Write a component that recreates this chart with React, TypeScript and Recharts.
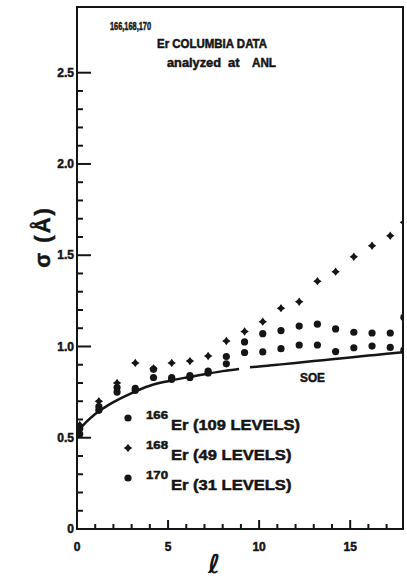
import {
  ComposedChart,
  Customized,
  Legend,
  Line,
  ReferenceArea,
  Scatter,
  XAxis,
  YAxis,
} from "recharts";

const INK = "#151515";
const FONT = "'Liberation Sans', Arial, sans-serif";

// axis ranges and labels
const xMax = 17.9;
const yMax = 2.86;
const xMajor = [0, 5, 10, 15];
const xMajorLabels = ["0", "5", "10", "15"];
const yMajor = [0, 0.5, 1, 1.5, 2, 2.5];
const yMajorLabels = ["0", "0.5", "1.0", "1.5", "2.0", "2.5"];

// l of each plotted column (they sit a little right of the integers)
const ells = [0.15, 1.2, 2.2, 3.2, 4.2, 5.2, 6.2, 7.2, 8.2, 9.2, 10.2, 11.2, 12.2, 13.2, 14.2, 15.2, 16.2, 17.2, 17.95];
// sigma values
const sigma166 = [0.52, 0.65, 0.75, 0.76, 0.83, 0.82, 0.83, 0.855, 0.905, 0.967, 0.97, 0.988, 1.008, 1.008, 0.972, 0.993, 1.002, 0.995, 0.98];
const sigma168 = [0.57, 0.7, 0.8, 0.91, 0.88, 0.91, 0.92, 0.948, 1.03, 1.082, 1.136, 1.21, 1.245, 1.358, 1.41, 1.492, 1.552, 1.607, 1.68];
const sigma170 = [0.55, 0.67, 0.775, 0.77, 0.875, 0.83, 0.84, 0.865, 0.945, 1.025, 1.07, 1.087, 1.112, 1.122, 1.096, 1.078, 1.074, 1.074, 1.16];

// SOE curve (gap near l = 9.2)
const curveL = [0, 0.5, 1, 1.5, 2, 3, 4, 5, 6, 7, 8, 8.9, 9.2, 9.5, 10, 11, 12, 13, 14, 15, 16, 17, 17.9];
const curveS = [0.53, 0.585, 0.63, 0.665, 0.695, 0.745, 0.785, 0.81, 0.83, 0.848, 0.865, 0.877, null, 0.886, 0.89, 0.9, 0.91, 0.92, 0.93, 0.94, 0.95, 0.96, 0.968];

const legendRows = [
  { iso: "166", text: "Er (109 LEVELS)", mark: "dot" },
  { iso: "168", text: "Er (49 LEVELS)", mark: "star" },
  { iso: "170", text: "Er (31 LEVELS)", mark: "dot" },
];

const d166 = ells.map((l, i) => ({ l, s: sigma166[i] }));
const d168 = ells.map((l, i) => ({ l, s: sigma168[i] }));
const d170 = ells.map((l, i) => ({ l, s: sigma170[i] }));
const curve = curveL.map((l, i) => ({ l, s: curveS[i] }));

const xTicks = Array.from({ length: 18 }, (_, i) => i);
const yTicks = Array.from({ length: 26 }, (_, i) => i / 10);

// heavy "lettering" look of the scan
const ink = { fill: INK, stroke: INK, strokeWidth: 0.5, fontFamily: FONT, fontWeight: "bold" as const };

function starPath(cx: number, cy: number, r = 4.2) {
  const k = r * 0.42;
  return `M${cx},${cy - r} L${cx + k},${cy - k} L${cx + r},${cy} L${cx + k},${cy + k} L${cx},${cy + r} L${cx - k},${cy + k} L${cx - r},${cy} L${cx - k},${cy - k} Z`;
}

const DotShape = (p: any) => <circle cx={p.cx} cy={p.cy} r={3.6} fill={INK} />;
const StarShape = (p: any) => <path d={starPath(p.cx, p.cy)} fill={INK} />;

function YTick(props: any) {
  const { x, y, payload } = props;
  const j = yMajor.findIndex((m) => Math.abs(m - payload.value) < 1e-6);
  return (
    <g>
      <line x1={x} x2={x + (j >= 0 ? 14 : 6)} y1={y} y2={y} stroke={INK} strokeWidth={2} />
      {j >= 0 && (
        <text x={x - 3} y={y} dy="0.35em" textAnchor="end" fontSize={12} {...ink}>
          {yMajorLabels[j]}
        </text>
      )}
    </g>
  );
}

function XTick(props: any) {
  const { x, y, payload } = props;
  const j = xMajor.indexOf(payload.value);
  return (
    <g>
      <line x1={x} x2={x} y1={y} y2={y - (j >= 0 ? 9 : 5)} stroke={INK} strokeWidth={2} />
      {j >= 0 && (
        <text x={x} y={y + 22} textAnchor="middle" fontSize={12} {...ink}>
          {xMajorLabels[j]}
        </text>
      )}
    </g>
  );
}

function LegendBox() {
  return (
    <svg width={200} height={95}>
      {legendRows.map((r, i) => {
        const cy = 15 + i * 30;
        return (
          <g key={r.iso}>
            {r.mark === "dot" ? <circle cx={12} cy={cy} r={3.6} fill={INK} /> : <path d={starPath(12, cy)} fill={INK} />}
            <text x={30} y={cy + 1} fontSize={11} textLength={22} lengthAdjust="spacingAndGlyphs" {...ink}>
              {r.iso}
            </text>
            <text x={55} y={cy + 12} fontSize={15} textLength={r.text.length * 8.6} lengthAdjust="spacingAndGlyphs" {...ink}>
              {r.text}
            </text>
          </g>
        );
      })}
    </svg>
  );
}

function Notes() {
  return (
    <g>
      <text x={110} y={30} fontSize={11} textLength={41} lengthAdjust="spacingAndGlyphs" {...ink}>166,168,170</text>
      <text x={157} y={48} fontSize={12} textLength={110} lengthAdjust="spacingAndGlyphs" {...ink}>Er COLUMBIA DATA</text>
      <text x={167} y={67} fontSize={13} textLength={54} lengthAdjust="spacingAndGlyphs" {...ink}>analyzed</text>
      <text x={228} y={67} fontSize={13} {...ink}>at</text>
      <text x={252} y={67} fontSize={13} textLength={24} lengthAdjust="spacingAndGlyphs" {...ink}>ANL</text>
      <text x={300} y={382} fontSize={13} textLength={25} lengthAdjust="spacingAndGlyphs" {...ink}>SOE</text>
    </g>
  );
}

export default function App() {
  return (
    <div style={{ position: "absolute", left: 0, top: 0, width: 407, height: 578, background: "#fff" }}>
      <ComposedChart width={407} height={578} margin={{ top: 7, right: 4, bottom: 19, left: 0 }}>
        <XAxis
          type="number"
          dataKey="l"
          domain={[0, xMax]}
          allowDataOverflow
          ticks={xTicks}
          interval={0}
          tick={<XTick />}
          tickLine={false}
          axisLine={false}
          tickSize={0}
          tickMargin={0}
          height={30}
          label={{
            value: "ℓ",
            content: (p: any) => (
              <text x={p.viewBox.x + 131} y={p.viewBox.y + 44} fontFamily="'DejaVu Sans', sans-serif" fontWeight="bold" fontSize={26} fill={INK}>
                ℓ
              </text>
            ),
          }}
        />
        <YAxis
          type="number"
          domain={[0, yMax]}
          allowDataOverflow
          ticks={yTicks}
          interval={0}
          tick={<YTick />}
          tickLine={false}
          axisLine={false}
          tickSize={0}
          tickMargin={0}
          width={77}
          label={{
            value: "σ (Å)",
            content: (p: any) => (
              <text
                transform={`translate(${p.viewBox.x + 50}, ${p.viewBox.y + 230}) rotate(-90)`}
                textAnchor="middle"
                fontSize={22}
                letterSpacing={2}
                {...ink}
              >
                σ (Å)
              </text>
            ),
          }}
        />
        <ReferenceArea x1={0} x2={xMax} y1={0} y2={yMax} fill="none" stroke={INK} strokeWidth={2} ifOverflow="visible" />
        <Line data={curve} dataKey="s" type="monotone" stroke={INK} strokeWidth={2.5} dot={false} connectNulls={false} isAnimationActive={false} />
        <Scatter name="166Er" data={d166} dataKey="s" shape={DotShape} isAnimationActive={false} />
        <Scatter name="168Er" data={d168} dataKey="s" shape={StarShape} isAnimationActive={false} />
        <Scatter name="170Er" data={d170} dataKey="s" shape={DotShape} isAnimationActive={false} />
        <Legend layout="vertical" align="center" verticalAlign="middle" wrapperStyle={{ left: 116, top: 403, width: 200, height: 95 }} content={() => <LegendBox />} />
        <Customized component={Notes} />
      </ComposedChart>
    </div>
  );
}
